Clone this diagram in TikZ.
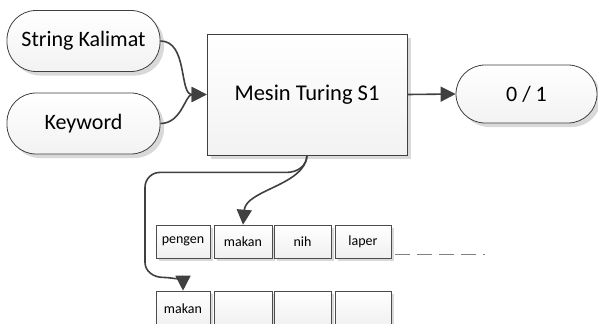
\documentclass[tikz,border=0pt]{standalone}
\usepackage{fontspec}
\setmainfont{Carlito}
\usetikzlibrary{arrows.meta,shadows}
\begin{document}
\begin{tikzpicture}[x=1pt,y=-1pt,
  sh/.style={drop shadow={shadow xshift=4pt,shadow yshift=-4pt,fill=gray!30,opacity=1}},
  pill/.style={draw=black!75,line width=0.8pt,rounded corners=29pt,top color=white,bottom color=gray!10,sh,
    minimum width=153pt,minimum height=61pt,font=\fontsize{22}{26}\selectfont,inner sep=0pt},
  bigbox/.style={draw=black!75,line width=0.8pt,top color=white,bottom color=gray!10,sh,
    minimum width=200pt,minimum height=121pt,font=\fontsize{22.5}{26}\selectfont,inner sep=0pt},
  cell/.style={draw=black!70,line width=0.6pt,top color=white,bottom color=gray!12,
    drop shadow={shadow xshift=3pt,shadow yshift=-3pt,fill=gray!30,opacity=1},
    minimum height=33pt,font=\fontsize{14}{16}\selectfont,inner sep=0pt},
  conn/.style={draw=black!75,line width=1.6pt,-{Triangle[length=15pt,width=15pt]}},
  dashline/.style={draw=gray,line width=0.8pt,dash pattern=on 15pt off 7pt}
]
\useasboundingbox (0,0) rectangle (598,324);

\node[pill] (sk) at (83.5,41) {String Kalimat};
\node[pill] (kw) at (83.5,123.5) {Keyword};
\node[bigbox] (m) at (307,94.5) {Mesin Turing S1};
\node[pill,minimum width=141pt,minimum height=58pt] (out) at (526.5,94) {0 / 1};

\node[cell,minimum width=54pt] (c1) at (183,241.5) {pengen};
\node[cell,minimum width=58pt] (c2) at (243,241.5) {makan};
\node[cell,minimum width=57pt] (c3) at (302.5,241.5) {nih};
\node[cell,minimum width=56pt] (c4) at (363,241.5) {laper};

\node[cell,minimum width=54pt,minimum height=36pt] (c5) at (183,309) {makan};
\node[cell,minimum width=58pt,minimum height=36pt] (c6) at (243,309) {};
\node[cell,minimum width=57pt,minimum height=36pt] (c7) at (302.5,309) {};
\node[cell,minimum width=56pt,minimum height=36pt] (c8) at (363,309) {};

\coordinate (d1) at (395,254);
\coordinate (d2) at (485,254);
\draw[dashline] (d1) -- (d2);

\draw[conn] (sk.east) to[out=0,in=180] (m.west);
\draw[conn] (kw.east) to[out=0,in=180] (m.west);
\draw[conn] (m.east) -- (out.west);
\draw[conn] (m.south) .. controls +(-2,30) and +(3,-35) .. (c2.north);
\draw[conn] (m.south) to[out=-90,in=0] ++(-20,17) -- ++(-127,0)
  to[out=180,in=90] ++(-15,15) -- ++(0,75)
  to[out=-90,in=180] ++(18,15) to[out=0,in=90] (c5.north);
\end{tikzpicture}
\end{document}
